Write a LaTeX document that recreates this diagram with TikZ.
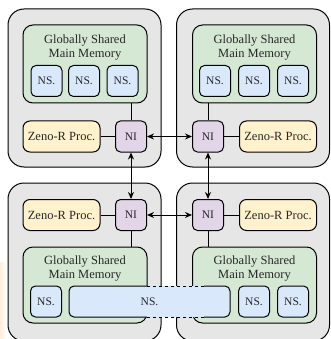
\documentclass[tikz,border=0pt]{standalone}
\usepackage{fontspec}
\setmainfont{Liberation Serif}
\usetikzlibrary{arrows.meta}

\definecolor{tilegray}{HTML}{E6E6E6}
\definecolor{memgreen}{HTML}{D5E8D4}
\definecolor{nsblue}{HTML}{DAE8FC}
\definecolor{procyellow}{HTML}{FFF2CC}
\definecolor{nipurple}{HTML}{E1D5E7}

\begin{document}
\begin{tikzpicture}[x=1pt, y=-1pt,
    box/.style={draw, line width=1pt, inner sep=0pt, text=black!85},
    tile/.style={box, fill=tilegray, rounded corners=16pt, minimum width=153pt, minimum height=158pt},
    mem/.style={box, fill=memgreen, rounded corners=10pt, minimum width=124pt, minimum height=78pt},
    ns/.style={box, fill=nsblue, rounded corners=5pt, minimum width=31pt, minimum height=31pt, font=\fontsize{11.5}{13}\selectfont},
    proc/.style={box, fill=procyellow, rounded corners=7pt, minimum width=77pt, minimum height=31pt, font=\fontsize{12.5}{14}\selectfont},
    ni/.style={box, fill=nipurple, rounded corners=5pt, minimum width=31pt, minimum height=31pt, font=\fontsize{11.5}{13}\selectfont},
    memtitle/.style={align=center, text=black!85, font=\fontsize{12.5}{14}\selectfont},
    link/.style={line width=1pt},
    hop/.style={line width=1pt, {Stealth[length=7pt,width=6pt]}-{Stealth[length=7pt,width=6pt]}}]

    \useasboundingbox (0,0) rectangle (330,339);
    \clip (0,0) rectangle (330,339);

    \shade[left color=orange!14, right color=white] (0,262) rectangle (6,339);

    % tiles
    \node[tile] (tile1) at (84.5,88) {};
    \node[tile] (tile2) at (253,88) {};
    \node[tile] (tile3) at (84.5,262) {};
    \node[tile] (tile4) at (253,262) {};

    % main memories
    \node[mem] (mem1) at (85,64) {};
    \node[mem] (mem2) at (254.5,64) {};
    \node[mem, minimum height=76pt] (mem3) at (85,285) {};
    \node[mem, minimum height=76pt] (mem4) at (254.5,285) {};

    \node[memtitle] (title1) at (85,48) {Globally Shared\\Main Memory};
    \node[memtitle] (title2) at (254.5,48) {Globally Shared\\Main Memory};
    \node[memtitle] (title3) at (85,268.5) {Globally Shared\\Main Memory};
    \node[memtitle] (title4) at (254.5,268.5) {Globally Shared\\Main Memory};

    \node[ns] (ns11) at (46.5,81) {NS.};
    \node[ns] (ns12) at (84,81) {NS.};
    \node[ns] (ns13) at (122.5,81) {NS.};
    \node[ns] (ns21) at (215,81) {NS.};
    \node[ns] (ns22) at (254,81) {NS.};
    \node[ns] (ns23) at (293,81) {NS.};
    \node[ns] (ns31) at (46,301.5) {NS.};
    \node[ns] (ns41) at (254,301.5) {NS.};
    \node[ns] (ns42) at (293,301.5) {NS.};

    % shared NS. spanning two tiles, dashed between the tiles
    \node[ns, draw=none, minimum width=161pt] (nsbig) at (149.5,301.5) {NS.};
    \draw[link, rounded corners=5pt] (147,286) -- (69,286) -- (69,317) -- (147,317);
    \draw[link, rounded corners=5pt] (204,286) -- (230,286) -- (230,317) -- (204,317);
    \draw[link, dashed] (147,286) -- (204,286);
    \draw[link, dashed] (147,317) -- (204,317);

    % processors and network interfaces
    \node[proc] (proc1) at (61.5,136.5) {Zeno-R Proc.};
    \node[ni] (ni1) at (131,136.5) {NI};
    \node[ni] (ni2) at (208,136.5) {NI};
    \node[proc] (proc2) at (278,136.5) {Zeno-R Proc.};
    \node[proc] (proc3) at (61.5,215) {Zeno-R Proc.};
    \node[ni] (ni3) at (131,215) {NI};
    \node[ni] (ni4) at (208,215) {NI};
    \node[proc] (proc4) at (278,215) {Zeno-R Proc.};

    \draw[link] (proc1) -- (ni1);
    \draw[link] (proc2) -- (ni2);
    \draw[link] (proc3) -- (ni3);
    \draw[link] (proc4) -- (ni4);

    \draw[link] (ni1.north) -- (ni1.north |- mem1.south);
    \draw[link] (ni2.north) -- (ni2.north |- mem2.south);
    \draw[link] (ni3.south) -- (ni3.south |- mem3.north);
    \draw[link] (ni4.south) -- (ni4.south |- mem4.north);

    \draw[hop] (ni1) -- (ni2);
    \draw[hop] (ni3) -- (ni4);
    \draw[hop] (ni1) -- (ni3);
    \draw[hop] (ni2) -- (ni4);

\end{tikzpicture}
\end{document}
